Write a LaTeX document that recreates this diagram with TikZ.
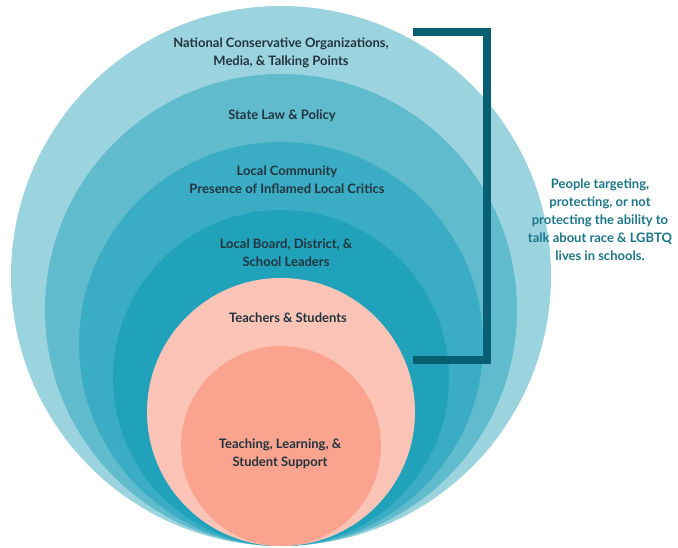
\documentclass[tikz,border=0pt]{standalone}
\usepackage{fontspec}
\setmainfont{Lato}
\usepackage{xcolor}
\usetikzlibrary{positioning}

\definecolor{ringA}{RGB}{155,212,223}
\definecolor{ringB}{RGB}{96,187,204}
\definecolor{ringC}{RGB}{58,173,196}
\definecolor{ringD}{RGB}{32,162,187}
\definecolor{pinkA}{RGB}{252,196,183}
\definecolor{pinkB}{RGB}{250,163,143}
\definecolor{labelInk}{RGB}{34,52,62}
\definecolor{sideInk}{RGB}{28,118,138}
\definecolor{bracketInk}{RGB}{8,94,114}

\begin{document}
\begin{tikzpicture}[
    x=1pt, y=-1pt,
    ring/.style={circle, draw=none, inner sep=0pt},
    lbl/.style={align=center, font=\fontsize{13}{18}\selectfont\bfseries, text=labelInk, inner sep=0pt},
    side/.style={align=center, font=\fontsize{13}{18}\selectfont\bfseries, text=sideInk, inner sep=0pt},
    bracket/.style={draw=bracketInk, line width=8pt, line join=miter}]
  \useasboundingbox (0,0) rectangle (678,548);
  % rings, all touching at the bottom
  \node[ring, fill=ringA, minimum size=540pt] (national) at (281,276) {};
  \node[ring, fill=ringB, minimum size=472pt] (state) at (281,310) {};
  \node[ring, fill=ringC, minimum size=404pt] (community) at (281,344) {};
  \node[ring, fill=ringD, minimum size=336pt] (board) at (281,378) {};
  \node[ring, fill=pinkA, minimum size=268pt] (teachers) at (281,412) {};
  \node[ring, fill=pinkB, minimum size=200pt] (teaching) at (281,446) {};
  % labels
  \node[lbl] (nationalText) at (281,53) {National Conservative Organizations,\\Media, \& Talking Points};
  \node[lbl] (stateText) at (282,116) {State Law \& Policy};
  \node[lbl] (communityText) at (287,180) {Local Community\\Presence of Inflamed Local Critics};
  \node[lbl] (boardText) at (286,253) {Local Board, District, \&\\School Leaders};
  \node[lbl] (teachersText) at (288,318) {Teachers \& Students};
  \node[lbl] (teachingText) at (280,454) {Teaching, Learning, \&\\Student Support};
  % bracket and side note
  \coordinate (bTop) at (413,32);
  \coordinate (bBot) at (413,360);
  \draw[bracket] (bTop) -- ++(74,0) |- (bBot);
  \node[side] (people) at (600,220) {People targeting,\\protecting, or not\\protecting the ability to\\talk about race \& LGBTQ\\lives in schools.};
\end{tikzpicture}
\end{document}
